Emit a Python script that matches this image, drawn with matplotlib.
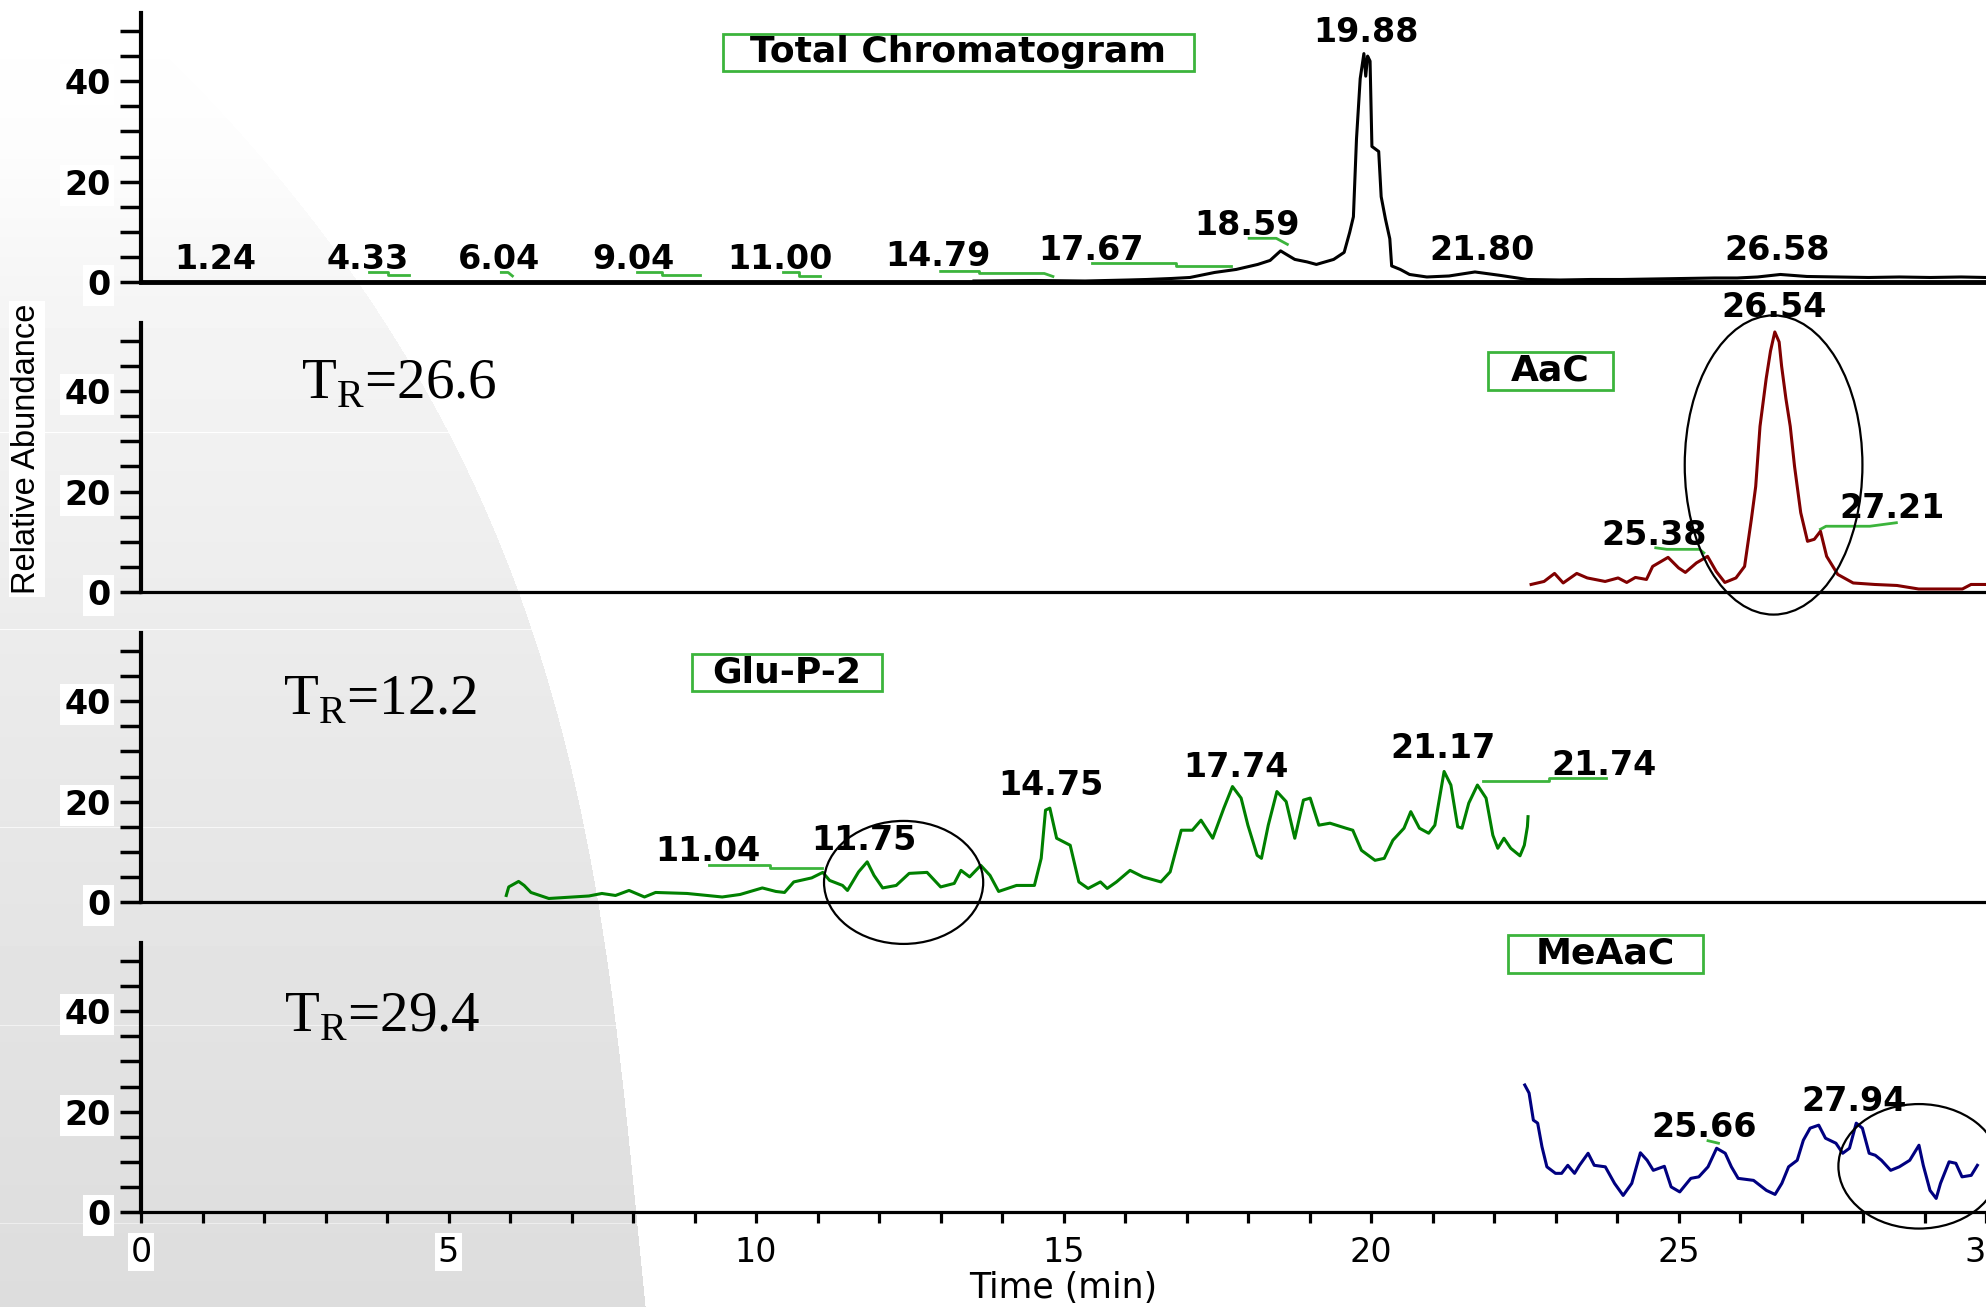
import numpy as np
import matplotlib
matplotlib.use("Agg")
import matplotlib.pyplot as plt
from matplotlib.patches import Ellipse, Rectangle

plt.rcParams["font.family"] = ["DejaVu Sans"]
plt.rcParams["mathtext.fontset"] = "custom"
plt.rcParams["mathtext.rm"] = "Liberation Serif"

# ---------------- values ----------------
# time in minutes, relative abundance in %

# Total chromatogram (black)
tic_time = [13.5, 14.5, 15.3, 16.0, 16.3, 16.7, 17.0, 17.4, 17.75, 18.1, 18.3, 18.47, 18.55, 18.7,
            18.9, 19.05, 19.33, 19.5, 19.59, 19.65, 19.7, 19.76, 19.82, 19.85, 19.88, 19.92, 19.95,
            20.06, 20.1, 20.17, 20.24, 20.27, 20.41, 20.56, 20.84, 21.2, 21.62, 21.8, 22.04, 22.47,
            23.0, 23.5, 24.0, 24.5, 25.0, 25.5, 25.87, 26.2, 26.57, 27.0, 27.5, 28.0, 28.5, 29.0,
            29.5, 29.9]
tic_abund = [0.2, 0.3, 0.2, 0.4, 0.5, 0.7, 0.9, 1.9, 2.5, 3.5, 4.3, 6.2, 5.6, 4.5,
             4.0, 3.5, 4.5, 5.9, 9.9, 13.0, 28.5, 40.5, 45.5, 41.0, 45.0, 44.0, 27.0,
             26.0, 17.0, 12.5, 8.6, 3.2, 2.5, 1.5, 1.0, 1.2, 2.0, 1.7, 1.3, 0.5,
             0.4, 0.5, 0.5, 0.6, 0.7, 0.8, 0.8, 1.0, 1.5, 1.1, 1.0, 0.9, 1.0, 0.9,
             1.0, 0.9]
tic_labels = ["1.24", "4.33", "6.04", "9.04", "11.00", "14.79", "17.67", "18.59", "19.88", "21.80", "26.58"]
tic_label_x = [1.2, 3.67, 5.8, 7.98, 10.36, 12.92, 15.39, 17.92, 19.85, 21.73, 26.52]
tic_label_y = [4.4, 4.4, 4.4, 4.4, 4.4, 5.0, 6.2, 11.2, 49.8, 6.2, 6.2]
tic_marks_x = [[3.7, 4.0, 4.0, 4.35], [5.84, 5.95, 6.02], [8.04, 8.45, 8.45, 9.06],
               [10.41, 10.66, 10.66, 11.01], [12.96, 13.59, 13.59, 14.64, 14.78],
               [15.42, 16.77, 16.77, 17.67], [17.96, 18.4, 18.58]]
tic_marks_y = [[1.9, 1.9, 1.3, 1.3], [1.9, 1.9, 1.2], [1.9, 1.9, 1.3, 1.3],
               [1.9, 1.9, 1.2, 1.2], [2.1, 2.1, 1.7, 1.7, 1.1],
               [3.7, 3.7, 3.2, 3.2], [8.7, 8.7, 7.5]]

# AaC (dark red)
aac_time = [22.53, 22.74, 22.91, 23.05, 23.27, 23.44, 23.73, 23.94, 24.08, 24.22, 24.4, 24.5,
            24.75, 24.92, 25.03, 25.21, 25.39, 25.53, 25.67, 25.85, 25.99, 26.1, 26.17, 26.24,
            26.34, 26.41, 26.48, 26.55, 26.59, 26.66, 26.73, 26.8, 26.9, 27.01, 27.12, 27.22,
            27.32, 27.5, 27.75, 28.1, 28.46, 28.81, 29.52, 29.66, 29.9]
aac_abund = [1.5, 2.1, 3.7, 1.8, 3.7, 2.8, 2.1, 2.8, 1.9, 2.9, 2.5, 5.1,
             6.9, 4.8, 3.9, 5.8, 7.1, 4.1, 1.9, 2.8, 5.1, 14.5, 21.0, 33.0,
             42.5, 48.0, 51.8, 49.8, 45.0, 38.5, 33.0, 25.0, 15.8, 10.1, 10.5, 12.1,
             7.1, 3.5, 1.8, 1.5, 1.3, 0.6, 0.6, 1.5, 1.5]
aac_labels = ["26.54", "25.38", "27.21"]
aac_label_x = [26.46, 24.52, 28.38]
aac_label_y = [56.6, 11.3, 16.6]
aac_marks_x = [[24.55, 24.73, 25.26, 25.33], [27.22, 27.31, 28.02, 28.45]]
aac_marks_y = [[8.8, 8.5, 8.5, 7.8], [12.5, 13.1, 13.1, 13.8]]

# Glu-P-2 (green)
glu_time = [5.92, 5.96, 6.12, 6.21, 6.32, 6.61, 7.26, 7.47, 7.69, 7.91, 8.16, 8.34, 8.85, 9.42,
            9.71, 10.07, 10.29, 10.43, 10.58, 10.87, 11.05, 11.16, 11.37, 11.45, 11.63, 11.77,
            11.88, 12.02, 12.24, 12.45, 12.74, 12.96, 13.18, 13.29, 13.43, 13.61, 13.76, 13.9,
            14.19, 14.48, 14.59, 14.66, 14.73, 14.84, 15.06, 15.2, 15.35, 15.55, 15.66, 15.81,
            16.03, 16.24, 16.53, 16.68, 16.86, 17.04, 17.18, 17.37, 17.55, 17.69, 17.83, 17.94,
            18.09, 18.16, 18.27, 18.41, 18.56, 18.7, 18.84, 18.95, 19.09, 19.27, 19.53, 19.64,
            19.78, 20.0, 20.15, 20.29, 20.47, 20.58, 20.72, 20.87, 20.97, 21.12, 21.23, 21.34,
            21.41, 21.52, 21.66, 21.8, 21.91, 21.99, 22.09, 22.2, 22.35, 22.42, 22.47, 22.48]
glu_abund = [1.3, 3.0, 4.1, 3.3, 1.9, 0.7, 1.2, 1.7, 1.3, 2.3, 1.0, 1.9, 1.7, 1.0,
             1.5, 2.8, 2.1, 1.9, 4.0, 4.8, 5.9, 4.3, 3.3, 2.3, 6.0, 8.0,
             5.3, 2.8, 3.3, 5.7, 5.9, 3.0, 3.7, 6.3, 5.0, 7.3, 5.3, 2.1,
             3.3, 3.3, 8.7, 18.3, 18.7, 12.7, 11.3, 4.0, 2.7, 4.0, 2.7, 4.0,
             6.3, 5.0, 4.0, 6.0, 14.3, 14.3, 16.3, 12.7, 18.7, 23.0, 20.7, 15.3,
             9.3, 8.7, 15.3, 22.0, 20.0, 12.7, 20.3, 20.7, 15.3, 15.7, 14.7, 14.3,
             10.3, 8.3, 8.7, 12.3, 14.7, 18.0, 14.7, 13.7, 15.3, 26.0, 23.3, 15.0,
             14.7, 19.7, 23.3, 20.7, 13.3, 10.7, 12.7, 10.7, 9.2, 11.3, 15.0, 17.0]
glu_labels = ["11.04", "11.75", "14.75", "17.74", "21.17", "21.74"]
glu_label_x = [9.18, 11.72, 14.74, 17.74, 21.11, 23.71]
glu_label_y = [10.0, 12.2, 23.2, 26.8, 30.5, 27.2]
glu_marks_x = [[9.21, 10.2, 10.2, 11.03], [21.75, 22.82, 22.82, 23.75]]
glu_marks_y = [[7.3, 7.3, 6.8, 6.8], [24.2, 24.2, 24.7, 24.7]]

# MeAaC (navy)
meaac_time = [22.5, 22.57, 22.64, 22.71, 22.78, 22.86, 23.0, 23.1, 23.2, 23.31, 23.39, 23.53,
              23.63, 23.81, 23.96, 24.1, 24.24, 24.38, 24.49, 24.59, 24.77, 24.88, 25.02, 25.2,
              25.33, 25.48, 25.62, 25.76, 25.86, 25.97, 26.22, 26.43, 26.57, 26.68, 26.79, 26.93,
              27.03, 27.14, 27.28, 27.39, 27.56, 27.67, 27.78, 27.89, 27.99, 28.1, 28.2, 28.3,
              28.45, 28.59, 28.76, 28.91, 28.98, 29.09, 29.19, 29.26, 29.4, 29.51, 29.61, 29.76,
              29.86]
meaac_abund = [25.3, 23.7, 18.3, 17.7, 13.0, 9.0, 7.7, 7.7, 9.3, 7.7, 9.3, 11.7,
               9.3, 9.0, 5.7, 3.3, 5.7, 11.8, 10.3, 8.3, 9.1, 5.0, 4.0, 6.7,
               7.0, 9.0, 12.7, 11.7, 9.0, 6.7, 6.3, 4.3, 3.5, 5.7, 9.0, 10.3,
               14.3, 16.7, 17.3, 14.7, 13.7, 11.7, 12.7, 17.7, 16.7, 11.7, 11.3, 10.3,
               8.3, 9.0, 10.3, 13.3, 9.3, 4.3, 2.7, 5.7, 10.0, 9.7, 7.0, 7.3,
               9.3]
meaac_labels = ["25.66", "27.94"]
meaac_label_x = [25.41, 27.86]
meaac_label_y = [16.9, 22.1]
meaac_marks_x = [[25.48, 25.65]]
meaac_marks_y = [[14.2, 13.7]]

# compound names and retention times
panel_titles = ["Total Chromatogram", "AaC", "Glu-P-2", "MeAaC"]
retention = [None, "26.6", "12.2", "29.4"]
x_ticks = [0, 5, 10, 15, 20, 25, 30]
y_ticks = [0, 20, 40]

# ---------------- layout (pixels of the 1986x1307 picture) ----------------
W, H = 1986, 1307
X0 = 141
PX_MIN = 61.7
PX_UNIT = 5.02
YTOP = 53.5
XMAX = (W - X0) / PX_MIN
baselines = [282, 592, 902, 1212]

fig = plt.figure(figsize=(W / 100, H / 100), dpi=100)

# grey slide background on the left
ys = np.arange(H)
xs = np.arange(W)
edge = np.polyval(np.polyfit([0, 110, 300, 625, 940, 1307], [110, 214, 375, 527, 605, 645], 3), ys)
shade = np.interp(ys, [0, 150, 300, 620, 940, 1307], [1.0, 0.99, 0.96, 0.925, 0.895, 0.865])
inside = xs[None, :] < edge[:, None]
bg = np.where(inside, shade[:, None], 1.0)
for row in [432, 629, 827, 1025, 1223]:
    bg[row] = np.where(inside[row], np.minimum(shade[row] + 0.06, 1.0), 1.0)
ax_bg = fig.add_axes([0, 0, 1, 1], zorder=0)
ax_bg.imshow(bg, cmap="gray", vmin=0, vmax=1, extent=(0, W, H, 0), aspect="auto",
             interpolation="nearest")
ax_bg.set_xlim(0, W)
ax_bg.set_ylim(H, 0)
ax_bg.axis("off")

panels = [
    (tic_time, tic_abund, "black", tic_labels, tic_label_x, tic_label_y, tic_marks_x, tic_marks_y),
    (aac_time, aac_abund, "#800000", aac_labels, aac_label_x, aac_label_y, aac_marks_x, aac_marks_y),
    (glu_time, glu_abund, "#008000", glu_labels, glu_label_x, glu_label_y, glu_marks_x, glu_marks_y),
    (meaac_time, meaac_abund, "#000080", meaac_labels, meaac_label_x, meaac_label_y, meaac_marks_x, meaac_marks_y),
]

# boxes round the compound names: (x0, x1, y0, y1) in data units
title_boxes = [(9.43, 17.06, 42.1, 49.5), (21.83, 23.85, 40.2, 47.9),
               (8.93, 12.01, 42.1, 49.5), (22.23, 25.4, 47.7, 55.2)]
# hand-drawn circles: (x, y, width, height)
circles = [None, (26.46, 25.3, 2.88, 59.6), (12.36, 3.9, 2.58, 24.5), (28.91, 9.1, 2.62, 24.8)]
tr_pos = [None, (2.59, 38.6), (2.30, 37.3), (2.32, 35.9)]

mark_green = "#3cb43c"
axes = []
for i, (t, a, col, labs, lx, ly, mx, my) in enumerate(panels):
    base = baselines[i]
    ax = fig.add_axes([X0 / W, 1 - base / H, (W - X0) / W, YTOP * PX_UNIT / H], zorder=1 + i)
    ax.patch.set_alpha(0)
    ax.set_xlim(0, XMAX)
    ax.set_ylim(0, YTOP)
    for s in ["top", "right"]:
        ax.spines[s].set_visible(False)
    ax.spines["left"].set_linewidth(3)
    ax.spines["bottom"].set_linewidth(3.5 if i == 0 else 2.3)

    ax.plot(t, a, color=col, lw=2.2, zorder=3, clip_on=False)
    for xx, yy in zip(mx, my):
        ax.plot(xx, yy, color=mark_green, lw=2.0, zorder=2)
    for s, x, y in zip(labs, lx, ly):
        ax.text(x, y, s, ha="center", va="center", fontsize=24, fontweight="bold", zorder=4)

    bx0, bx1, by0, by1 = title_boxes[i]
    ax.add_patch(Rectangle((bx0, by0), bx1 - bx0, by1 - by0, facecolor="white",
                           edgecolor=mark_green, lw=2.0, zorder=4, clip_on=False))
    ax.text((bx0 + bx1) / 2, (by0 + by1) / 2, panel_titles[i], ha="center", va="center",
            fontsize=26, fontweight="bold", zorder=5)

    if circles[i] is not None:
        cx, cy, cw, ch = circles[i]
        ax.add_patch(Ellipse((cx, cy), cw, ch, fill=False, edgecolor="black", lw=1.6,
                             zorder=6, clip_on=False))
    if tr_pos[i] is not None:
        ax.text(tr_pos[i][0], tr_pos[i][1], "T$_{\\mathrm{R}}$=" + retention[i],
                fontfamily="Liberation Serif", fontsize=41, ha="left", va="baseline", zorder=4)

    ax.set_yticks(y_ticks)
    ax.set_yticks([v for v in range(5, 55, 5) if v not in y_ticks], minor=True)
    ax.tick_params(axis="y", which="both", length=15, width=2.5, direction="out", pad=7,
                   labelsize=24)
    if i < 3:
        ax.tick_params(axis="x", which="both", bottom=False, labelbottom=False)
    else:
        ax.set_xticks(x_ticks)
        ax.set_xticks(np.arange(0, 31, 1), minor=True)
        ax.tick_params(axis="x", which="both", length=8, width=2.3, direction="out", pad=9,
                       labelsize=24)
        ax.set_xlabel("Time (min)", fontsize=25)
        ax.xaxis.set_label_coords(0.5, -(1271 - base) / (YTOP * PX_UNIT))
        for lab in ax.get_xticklabels():
            lab.set_bbox(dict(facecolor="white", edgecolor="none", pad=2))
    for lab in ax.get_yticklabels():
        lab.set_fontweight("bold")
        lab.set_bbox(dict(facecolor="white", edgecolor="none", pad=3))
    axes.append(ax)

fig.text(27 / W, 1 - 449 / H, "Relative Abundance", rotation=90, ha="center", va="center",
         fontfamily="Liberation Sans", fontsize=23.5, zorder=10,
         bbox=dict(facecolor="white", edgecolor="none", pad=2))

fig.savefig("out.png", dpi=100)
